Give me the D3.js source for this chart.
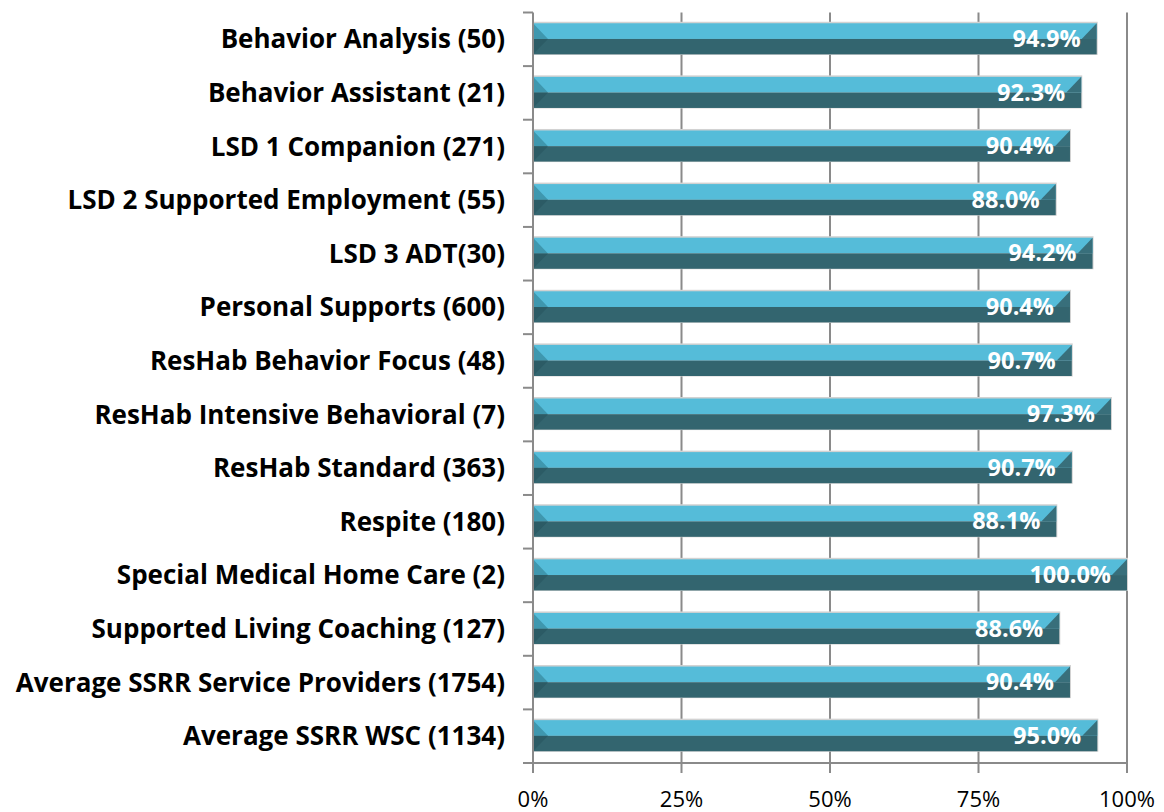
<!DOCTYPE html>
<html>
<head>
<meta charset="utf-8">
<script src="https://cdn.jsdelivr.net/npm/d3@7"></script>
<style>
  html, body { margin: 0; padding: 0; background: #ffffff; }
  svg { display: block; }
</style>
</head>
<body>
<svg id="chart" width="1164" height="812"></svg>
<script>
// Service categories (with respondent counts) and their percentage scores
const categories = [
  "Behavior Analysis (50)",
  "Behavior Assistant (21)",
  "LSD 1 Companion (271)",
  "LSD 2 Supported Employment (55)",
  "LSD 3 ADT(30)",
  "Personal Supports (600)",
  "ResHab Behavior Focus (48)",
  "ResHab Intensive Behavioral (7)",
  "ResHab Standard (363)",
  "Respite (180)",
  "Special Medical Home Care (2)",
  "Supported Living Coaching (127)",
  "Average SSRR Service Providers (1754)",
  "Average SSRR WSC (1134)"
];
const values = [94.9, 92.3, 90.4, 88.0, 94.2, 90.4, 90.7, 97.3, 90.7, 88.1, 100.0, 88.6, 90.4, 95.0];
const tickValues = [0, 25, 50, 75, 100];
const tickLabels = ["0%", "25%", "50%", "75%", "100%"];

const data = categories.map((c, i) => ({ category: c, value: values[i] }));

const svg = d3.select("#chart");
const margin = { top: 12.5, right: 37, bottom: 49, left: 533 };
const W = 1164, H = 812;
const x0 = margin.left, x1 = W - margin.right;
const y0 = margin.top, y1 = H - margin.bottom;

const x = d3.scaleLinear().domain([0, 100]).range([x0, x1]);
const y = d3.scaleBand().domain(categories).range([y0, y1]).paddingInner(0.42).paddingOuter(0.21);

const gridColor = "#8a8a8a";

// vertical gridlines (extending below the axis as tick marks)
svg.append("g").selectAll("line")
  .data(tickValues.slice(1))
  .join("line")
  .attr("x1", d => x(d)).attr("x2", d => x(d))
  .attr("y1", y0).attr("y2", y1 + 10)
  .attr("stroke", gridColor).attr("stroke-width", 2);

// bars, built as a bevelled two-tone strip
const light = "#55bcd9", dark = "#33656f";
const bars = svg.append("g").selectAll("g")
  .data(data)
  .join("g")
  .attr("transform", d => `translate(0,${y(d.category) - 0.5})`);

const bh = y.bandwidth();
const split = bh * 0.505;
const bevel = 15;

bars.append("rect")
  .attr("x", x(0)).attr("y", -1.5)
  .attr("width", d => x(d.value) - x(0) + 1).attr("height", bh + 2)
  .attr("fill", "#d2d2d2");
bars.append("rect")
  .attr("x", x(0)).attr("y", 0)
  .attr("width", d => x(d.value) - x(0)).attr("height", split)
  .attr("fill", light);
bars.append("rect")
  .attr("x", x(0)).attr("y", split)
  .attr("width", d => x(d.value) - x(0)).attr("height", bh - split)
  .attr("fill", dark);
// left end chevron
bars.append("path")
  .attr("d", `M${x(0)},0 L${x(0) + bevel},${split} L${x(0)},${split} Z`)
  .attr("fill", "#3f97ae");
bars.append("path")
  .attr("d", `M${x(0)},${split} L${x(0) + bevel},${split} L${x(0)},${bh} Z`)
  .attr("fill", "#2c5b65");
// right end bevel
bars.append("path")
  .attr("d", d => `M${x(d.value) - bevel},${split} L${x(d.value)},0 L${x(d.value)},${split} Z`)
  .attr("fill", "#386f7b");

// value labels
bars.append("text")
  .attr("x", d => x(d.value) - 16)
  .attr("y", split + 8)
  .attr("text-anchor", "end")
  .attr("font-family", "'Open Sans', sans-serif")
  .attr("font-weight", 700)
  .attr("font-size", 23.5)
  .attr("fill", "#ffffff")
  .text(d => d.value.toFixed(1) + "%");

// axes
svg.append("line")
  .attr("x1", x0).attr("x2", x0).attr("y1", y0).attr("y2", y1 + 10)
  .attr("stroke", gridColor).attr("stroke-width", 2);
svg.append("line")
  .attr("x1", x0 - 10).attr("x2", x1).attr("y1", y1).attr("y2", y1)
  .attr("stroke", gridColor).attr("stroke-width", 2);

// category tick marks at band boundaries
const boundaries = categories.map(c => y(c) - y.step() * y.paddingInner() / 2);
boundaries.push(y1);
boundaries[0] = y0;
svg.append("g").selectAll("line")
  .data(boundaries)
  .join("line")
  .attr("x1", x0 - 10).attr("x2", x0)
  .attr("y1", d => d).attr("y2", d => d)
  .attr("stroke", gridColor).attr("stroke-width", 2);

// category labels
svg.append("g").selectAll("text")
  .data(data)
  .join("text")
  .attr("x", 505)
  .attr("y", d => y(d.category) + bh / 2 + 9)
  .attr("text-anchor", "end")
  .attr("font-family", "'Open Sans', sans-serif")
  .attr("font-weight", 700)
  .attr("font-size", 26)
  .attr("fill", "#000000")
  .text(d => d.category);

// x tick labels
svg.append("g").selectAll("text")
  .data(tickValues)
  .join("text")
  .attr("x", d => x(d))
  .attr("y", 807)
  .attr("text-anchor", "middle")
  .attr("font-family", "'Open Sans', sans-serif")
  .attr("font-size", 22)
  .attr("fill", "#000000")
  .text((d, i) => tickLabels[i]);
</script>
</body>
</html>
